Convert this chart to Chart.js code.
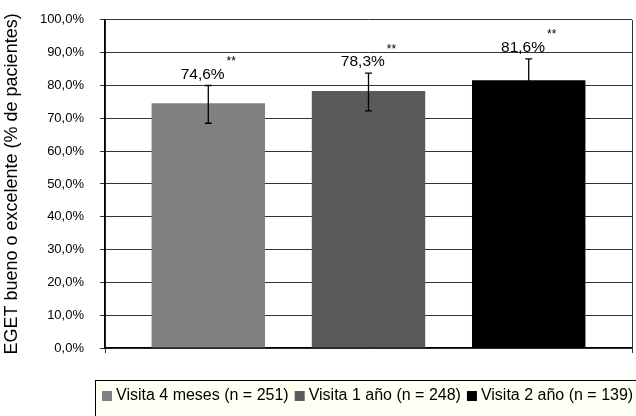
<!DOCTYPE html>
<html>
<head>
<meta charset="utf-8">
<script src="https://cdn.jsdelivr.net/npm/chart.js@4.4.1/dist/chart.umd.min.js"></script>
<style>
html,body{margin:0;padding:0;background:#fff;}
#wrap{width:636px;height:416px;position:relative;}
</style>
</head>
<body>
<div id="wrap"><canvas id="c" width="636" height="416"></canvas></div>
<script>
const categories = [''];
const seriesNames = ['Visita 4 meses (n = 251)', 'Visita 1 año (n = 248)', 'Visita 2 año (n = 139)'];
const values = [74.6, 78.3, 81.6];
const errLow = [68.5, 72.3, 75.1];
const errHigh = [80.0, 83.8, 88.1];
const marks = ['**', '**', '**'];
const yTicks = [0, 10, 20, 30, 40, 50, 60, 70, 80, 90, 100];
const colors = ['#808080', '#5a5a5a', '#000000'];

const FONT = "'Liberation Sans', Arial, Helvetica, sans-serif";
const fmt = v => v.toFixed(1).replace('.', ',') + '%';

const errorPlugin = {
  id: 'errs',
  afterDatasetsDraw(chart) {
    const ctx = chart.ctx;
    const y = chart.scales.y;
    ctx.save();
    chart.data.datasets.forEach((ds, i) => {
      const bar = chart.getDatasetMeta(i).data[0];
      const x = bar.x;
      const yl = y.getPixelForValue(errLow[i]);
      const yh = y.getPixelForValue(errHigh[i]);
      ctx.strokeStyle = '#000';
      ctx.lineWidth = 1.3;
      ctx.beginPath();
      ctx.moveTo(x, yl); ctx.lineTo(x, yh);
      ctx.moveTo(x - 3.5, yl); ctx.lineTo(x + 3.5, yl);
      ctx.moveTo(x - 3.5, yh); ctx.lineTo(x + 3.5, yh);
      ctx.stroke();
      const txt = fmt(values[i]);
      ctx.font = '15.5px ' + FONT;
      const w1 = ctx.measureText(txt).width;
      ctx.font = '12px ' + FONT;
      const w2 = ctx.measureText(marks[i]).width;
      const total = w1 + 2 + w2;
      const x0 = x - total / 2;
      const base = yh - 7;
      ctx.fillStyle = '#000';
      ctx.textBaseline = 'alphabetic';
      ctx.textAlign = 'left';
      ctx.font = '15.5px ' + FONT;
      ctx.fillText(txt, x0, base);
      ctx.font = '12px ' + FONT;
      ctx.fillText(marks[i], x0 + w1 + 2, base - 13.5);
    });
    ctx.restore();
  },
  afterDraw(chart) {
    const ctx = chart.ctx;
    ctx.save();
    ctx.fillStyle = '#fffff4';
    ctx.fillRect(95.5, 380.5, 600, 60);
    ctx.strokeStyle = '#000';
    ctx.lineWidth = 1;
    ctx.strokeRect(95.5, 380.5, 600, 60);
    ctx.font = '16px ' + FONT;
    ctx.textBaseline = 'middle';
    ctx.textAlign = 'left';
    let x = 102;
    const yc = 396;
    seriesNames.forEach((n, i) => {
      ctx.fillStyle = colors[i];
      ctx.fillRect(x, yc - 5, 10, 10);
      ctx.fillStyle = '#000';
      ctx.fillText(n, x + 14, yc);
      x += 14 + ctx.measureText(n).width + 6;
    });
    ctx.restore();
  }
};

new Chart(document.getElementById('c'), {
  type: 'bar',
  data: {
    labels: categories,
    datasets: seriesNames.map((n, i) => ({
      label: n,
      data: [values[i]],
      backgroundColor: colors[i],
      borderWidth: 0,
      categoryPercentage: 0.912,
      barPercentage: 0.708
    }))
  },
  options: {
    responsive: false,
    animation: false,
    devicePixelRatio: 1,
    layout: { padding: { top: 0, right: 4, left: 0, bottom: 0 } },
    plugins: { legend: { display: false }, tooltip: { enabled: false } },
    scales: {
      x: {
        grid: { display: true, offset: true, color: '#333', lineWidth: 1, tickLength: 5, drawOnChartArea: true },
        border: { display: true, color: '#000', width: 1.3 },
        ticks: { display: false },
        afterFit(s) { s.height = 68; }
      },
      y: {
        min: 0, max: 100,
        afterBuildTicks(s) { s.ticks = yTicks.map(v => ({ value: v })); },
        ticks: {
          callback: v => fmt(v),
          color: '#000',
          font: { family: FONT, size: 13, lineHeight: 0.6 },
          padding: 16
        },
        grid: { color: '#333', lineWidth: 1, tickLength: 5 },
        border: { display: true, color: '#000', width: 1.3 },
        title: {
          display: true,
          text: 'EGET bueno o excelente (% de pacientes)',
          color: '#000',
          font: { family: FONT, size: 18 },
          padding: { top: 1, bottom: 0 }
        },
        afterFit(s) { s.width = 105; }
      }
    }
  },
  plugins: [errorPlugin]
});
</script>
</body>
</html>
